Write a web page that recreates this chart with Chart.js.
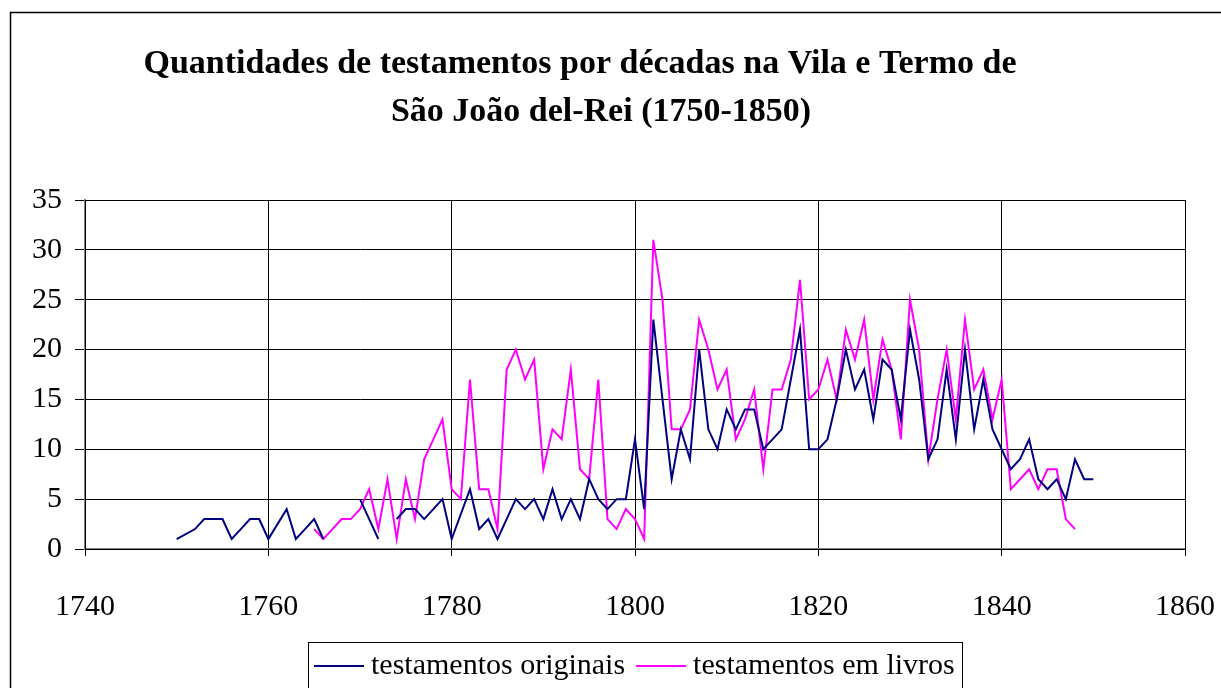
<!DOCTYPE html>
<html>
<head>
<meta charset="utf-8">
<script src="https://cdn.jsdelivr.net/npm/chart.js@4.4.1/dist/chart.umd.min.js"></script>
<style>
  html, body { margin: 0; padding: 0; background: #ffffff; }
  #wrap { position: relative; width: 1221px; height: 688px; }
</style>
</head>
<body>
<div id="wrap"><canvas id="c" width="1221" height="688"></canvas></div>
<script>
const titleLines = ["Quantidades de testamentos por décadas na Vila e Termo de", "São João del-Rei (1750-1850)"];
const seriesNames = ["testamentos originais", "testamentos em livros"];
const xTicks = [1740, 1760, 1780, 1800, 1820, 1840, 1860];
const yTicks = [0, 5, 10, 15, 20, 25, 30, 35];

const yearsOriginais = [1750,1752,1753,1754,1755,1756,1757,1758,1759,1760,1762,1763,1764,1765,1766,1767,
  1770,1771,1772,1773,1774,1775,1776,1777,1778,1779,1780,1782,1783,1784,1785,1786,1787,1788,1789,1790,
  1791,1792,1793,1794,1795,1796,1797,1798,1799,1800,1801,1802,1803,1804,1805,1806,1807,1808,1809,1810,
  1811,1812,1813,1814,1815,1816,1817,1818,1819,1820,1821,1822,1823,1824,1825,1826,1827,1828,1829,1830,
  1831,1832,1833,1834,1835,1836,1837,1838,1839,1840,1841,1842,1843,1844,1845,1846,1847,1848,1849,1850];
const originais = [1,2,3,3,3,1,2,3,3,1,4,1,2,3,1,null,
  5,3,1,null,3,4,4,3,4,5,1,6,2,3,1,3,5,4,5,3,
  6,3,5,3,7,5,4,5,5,11,4,23,15,7,12,9,20,12,10,14,
  12,14,14,10,11,12,17,22,10,10,11,15,20,16,18,13,19,18,13,22,
  17,9,11,18,11,20,12,17,12,10,8,9,11,7,6,7,5,9,7,7];

const yearsLivros = [1765,1766,1767,1768,1769,1770,1771,1772,1773,1774,1775,1776,1777,1778,1779,1780,
  1781,1782,1783,1784,1785,1786,1787,1788,1789,1790,1791,1792,1793,1794,1795,1796,1797,1798,1799,1800,
  1801,1802,1803,1804,1805,1806,1807,1808,1809,1810,1811,1812,1813,1814,1815,1816,1817,1818,1819,1820,
  1821,1822,1823,1824,1825,1826,1827,1828,1829,1830,1831,1832,1833,1834,1835,1836,1837,1838,1839,1840,
  1841,1842,1843,1844,1845,1846,1847,1848];
const livros = [2,1,2,3,3,4,6,2,7,1,7,3,9,11,13,6,
  5,17,6,6,2,18,20,17,19,8,12,11,18,8,7,17,3,2,4,3,
  1,31,25,12,12,14,23,20,16,18,11,13,16,8,16,16,19,27,15,16,
  19,15,22,19,23,15,21,18,11,25,20,9,15,20,13,23,16,18,13,17,
  6,7,8,6,8,8,3,2];

const colors = ["#000080", "#FF00FF"];
const SERIF = "'Liberation Serif', 'Times New Roman', serif";

function toPoints(xs, ys) { return xs.map((x, i) => ({ x: x, y: ys[i] })); }

const decor = {
  id: 'decor',
  beforeDraw(chart) {
    const ctx = chart.ctx;
    ctx.save();
    ctx.fillStyle = '#ffffff';
    ctx.fillRect(0, 0, chart.width, chart.height);
    ctx.strokeStyle = '#000000';
    ctx.lineWidth = 1.5;
    ctx.beginPath();
    ctx.moveTo(10.5, 700);
    ctx.lineTo(10.5, 12.5);
    ctx.lineTo(1230, 12.5);
    ctx.stroke();
    ctx.restore();
  },
  afterDraw(chart) {
    const ctx = chart.ctx;
    const ca = chart.chartArea;
    ctx.save();
    // title
    ctx.fillStyle = '#000000';
    ctx.font = "bold 34px " + SERIF;
    ctx.textAlign = 'center';
    ctx.textBaseline = 'alphabetic';
    ctx.fillText(titleLines[0], 580, 73);
    ctx.fillText(titleLines[1], 601, 121);
    // plot frame
    ctx.strokeStyle = '#000000';
    ctx.lineWidth = 1;
    ctx.strokeRect(Math.round(ca.left) + 0.5, Math.round(ca.top) + 0.5, Math.round(ca.right - ca.left), Math.round(ca.bottom - ca.top));
    // legend
    ctx.font = "30px " + SERIF;
    const lineLen = 50, gap = 7, between = 11;
    const w0 = ctx.measureText(seriesNames[0]).width;
    const w1 = ctx.measureText(seriesNames[1]).width;
    const boxL = 308, boxT = 642.5;
    let x = boxL + 6;
    const yMid = 666;
    ctx.strokeStyle = '#000000';
    ctx.lineWidth = 1;
    ctx.strokeRect(boxL + 0.5, boxT, 654, 60);
    ctx.textAlign = 'left';
    ctx.textBaseline = 'middle';
    for (let i = 0; i < 2; i++) {
      ctx.strokeStyle = colors[i];
      ctx.lineWidth = 2;
      ctx.beginPath();
      ctx.moveTo(x, yMid);
      ctx.lineTo(x + lineLen, yMid);
      ctx.stroke();
      x += lineLen + gap;
      ctx.fillStyle = '#000000';
      ctx.fillText(seriesNames[i], x, yMid);
      x += (i === 0 ? w0 : w1) + between;
    }
    ctx.restore();
  }
};

new Chart(document.getElementById('c'), {
  type: 'scatter',
  data: {
    datasets: [
      { label: seriesNames[0], data: toPoints(yearsOriginais, originais), showLine: true, spanGaps: false,
        borderColor: colors[0], backgroundColor: colors[0], borderWidth: 2, pointRadius: 0, tension: 0 },
      { label: seriesNames[1], data: toPoints(yearsLivros, livros), showLine: true, spanGaps: false,
        borderColor: colors[1], backgroundColor: colors[1], borderWidth: 2, pointRadius: 0, tension: 0 }
    ]
  },
  options: {
    responsive: false,
    animation: false,
    devicePixelRatio: 1,
    layout: { padding: { left: 0, right: 36, top: 200, bottom: 0 } },
    plugins: { legend: { display: false }, title: { display: false }, tooltip: { enabled: false } },
    scales: {
      x: {
        type: 'linear', min: 1740, max: 1860,
        afterBuildTicks(scale) { scale.ticks = xTicks.map(v => ({ value: v })); },
        afterFit(scale) { scale.height = 139; scale.paddingLeft = 0; scale.paddingRight = 0; },
        ticks: { color: '#000000', font: { family: SERIF, size: 30 }, padding: 33, maxRotation: 0,
                 callback: v => String(v) },
        grid: { color: '#000000', lineWidth: 1, drawTicks: true, tickLength: 7, tickColor: '#000000' },
        border: { color: '#808080', width: 2 }
      },
      y: {
        min: 0, max: 35,
        afterBuildTicks(scale) { scale.ticks = yTicks.map(v => ({ value: v })); },
        afterFit(scale) { scale.width = 85; scale.paddingTop = 0; scale.paddingBottom = 0; },
        ticks: { color: '#000000', font: { family: SERIF, size: 30 }, padding: 13 },
        grid: { color: '#000000', lineWidth: 1, drawTicks: true, tickLength: 10, tickColor: '#000000' },
        border: { color: '#808080', width: 2 }
      }
    }
  },
  plugins: [decor]
});
</script>
</body>
</html>
